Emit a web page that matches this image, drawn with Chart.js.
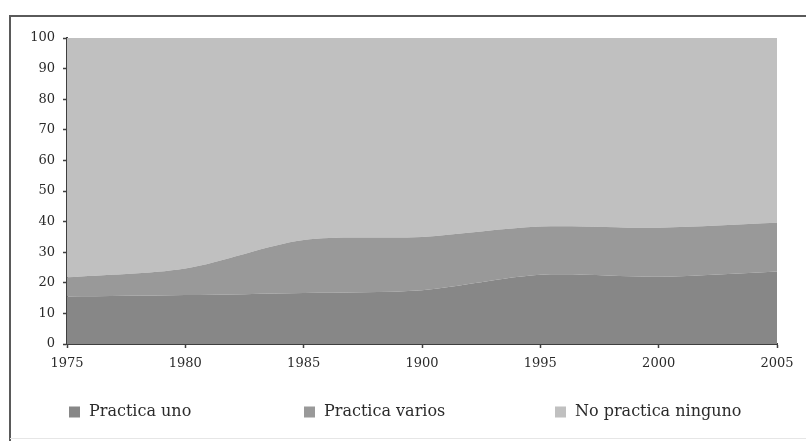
<!DOCTYPE html>
<html>
<head>
<meta charset="utf-8">
<script src="https://cdn.jsdelivr.net/npm/chart.js@4/dist/chart.umd.min.js"></script>
<style>
  html, body { margin: 0; padding: 0; background: #ffffff; }
  canvas { display: block; }
</style>
</head>
<body>
<canvas id="c" width="806" height="441"></canvas>
<script>
// ---- data ----
const years = ["1975", "1980", "1985", "1900", "1995", "2000", "2005"];
const practicaUno = [15.5, 16, 16.7, 17.6, 22.6, 22, 23.7];
const practicaVarios = [6.3, 8.7, 17.3, 17.4, 15.8, 16, 15.9];
const noPracticaNinguno = [78.2, 75.3, 66, 65, 61.6, 62, 60.4];
const seriesNames = ["Practica uno", "Practica varios", "No practica ninguno"];
const yTicks = [0, 10, 20, 30, 40, 50, 60, 70, 80, 90, 100];

const colors = ["#878787", "#999999", "#c0c0c0"];
const FONT = "'DejaVu Serif', 'Liberation Serif', serif";

const framePlugin = {
  id: 'frame',
  beforeDraw(chart) {
    const ctx = chart.ctx;
    ctx.save();
    ctx.fillStyle = '#ffffff';
    ctx.fillRect(0, 0, chart.width, chart.height);
    ctx.strokeStyle = '#5a5a5a';
    ctx.lineWidth = 2;
    ctx.beginPath();
    ctx.moveTo(10, chart.height);
    ctx.lineTo(10, 16);
    ctx.lineTo(chart.width, 16);
    ctx.stroke();
    ctx.strokeStyle = '#e6e6e6';
    ctx.lineWidth = 1;
    ctx.beginPath();
    ctx.moveTo(10, 438.5);
    ctx.lineTo(chart.width, 438.5);
    ctx.stroke();
    ctx.restore();
  }
};

const legendPlugin = {
  id: 'customLegend',
  afterDraw(chart) {
    const ctx = chart.ctx;
    const xs = [69, 304, 555];
    const cy = 412;
    ctx.save();
    ctx.font = "16px " + FONT;
    ctx.textBaseline = 'middle';
    ctx.textAlign = 'left';
    chart.data.datasets.forEach((ds, i) => {
      ctx.fillStyle = ds.backgroundColor;
      ctx.fillRect(xs[i], cy - 5.5, 11, 11);
      ctx.fillStyle = '#2b2b2b';
      ctx.fillText(ds.label, xs[i] + 20, cy);
    });
    ctx.restore();
  }
};

const mkDs = (label, data, color, fill) => ({
  label, data,
  backgroundColor: color,
  borderColor: color,
  borderWidth: 0,
  pointRadius: 0,
  pointHoverRadius: 0,
  fill,
  tension: 0.3
});

new Chart(document.getElementById('c'), {
  type: 'line',
  data: {
    labels: years,
    datasets: [
      mkDs(seriesNames[0], practicaUno, colors[0], 'origin'),
      mkDs(seriesNames[1], practicaVarios, colors[1], '-1'),
      mkDs(seriesNames[2], noPracticaNinguno, colors[2], '-1')
    ]
  },
  options: {
    responsive: false,
    devicePixelRatio: 1,
    animation: false,
    layout: { padding: { left: 10, top: 38, right: 29, bottom: 0 } },
    plugins: {
      legend: { display: false },
      tooltip: { enabled: false }
    },
    scales: {
      x: {
        type: 'category',
        offset: false,
        grid: { display: true, drawOnChartArea: false, drawTicks: true, tickLength: 4, tickColor: '#3f3f3f', tickWidth: 1.5 },
        border: { display: true, color: '#3f3f3f', width: 2 },
        ticks: { color: '#2b2b2b', font: { family: FONT, size: 13 }, padding: 8, maxRotation: 0, autoSkip: false },
        afterFit(scale) { scale.height = 97; }
      },
      y: {
        stacked: true,
        min: 0,
        max: 100,
        afterBuildTicks(scale) { scale.ticks = yTicks.map(v => ({ value: v })); },
        grid: { display: true, drawOnChartArea: false, drawTicks: true, tickLength: 4, tickColor: '#3f3f3f', tickWidth: 1.5 },
        border: { display: true, color: '#3f3f3f', width: 2 },
        ticks: { color: '#2b2b2b', font: { family: FONT, size: 13 }, padding: 8 },
        afterFit(scale) { scale.width = 57; }
      }
    }
  },
  plugins: [framePlugin, legendPlugin]
});
</script>
</body>
</html>
